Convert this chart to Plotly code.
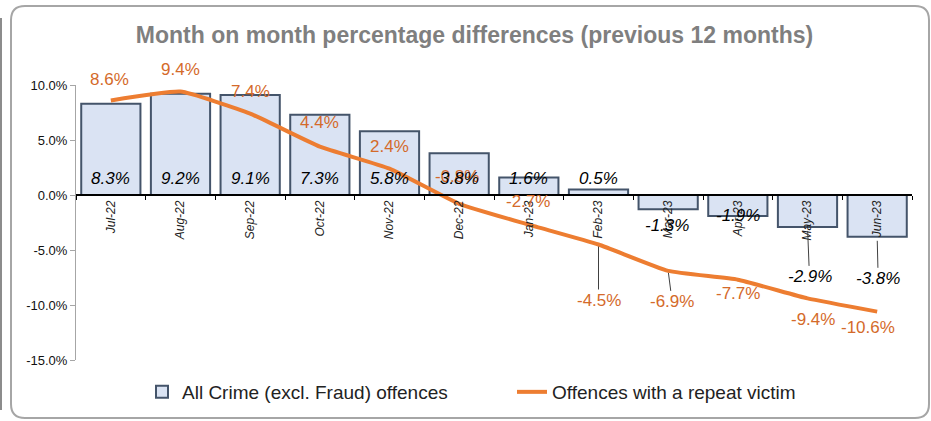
import plotly.graph_objects as go

months = ["Jul-22", "Aug-22", "Sep-22", "Oct-22", "Nov-22", "Dec-22",
          "Jan-23", "Feb-23", "Mar-23", "Apr-23", "May-23", "Jun-23"]
all_crime = [8.3, 9.2, 9.1, 7.3, 5.8, 3.8, 1.6, 0.5, -1.3, -1.9, -2.9, -3.8]
repeat_victim = [8.6, 9.4, 7.4, 4.4, 2.4, -0.8, -2.7, -4.5, -6.9, -7.7, -9.4, -10.6]

series_names = ["All Crime (excl. Fraud) offences", "Offences with a repeat victim"]
y_ticks = [10, 5, 0, -5, -10, -15]

# label offsets (pixels): (xshift, yshift, leader)
line_label_off = [(-1, 21, 0), (0, 22, 0), (0, 22, 0), (0, 24, 0), (0, 22, 0), (-2, 27, 0),
                  (-1, 23, 0), (0, -56, 1), (4, -31, 1), (0, -14, 0), (5, -21, 0), (-9, -16, 0)]
bar_label_off = [(0, 17, 0)] * 8 + [(-1, -16, 0), (0, 0, 0), (2, -50, 1), (1, -42, 1)]

FONT = "Liberation Sans, Arial, sans-serif"
W, H = 931, 421
L, R, T, B = 76, 19, 85, 61
PW, PH = W - L - R, H - T - B

def px(x):
    return (x - L) / PW

def py(y):
    return (H - B - y) / PH

fig = go.Figure()
fig.add_trace(go.Bar(
    x=months, y=all_crime, name=series_names[0], width=0.85,
    marker=dict(color="#DAE3F3", line=dict(color="#44546A", width=2)),
))
fig.add_trace(go.Scatter(
    x=months, y=repeat_victim, name=series_names[1], mode="lines",
    line=dict(color="#ED7D31", width=4, shape="spline", smoothing=0.4),
))

annotations = []
for m, v, (dx, dy, lead) in zip(months, repeat_victim, line_label_off):
    a = dict(x=m, y=v, text=f"{v:.1f}%", font=dict(family=FONT, size=17, color="#D46A2A"))
    if lead:
        a.update(showarrow=True, arrowhead=0, arrowwidth=1, arrowcolor="#404040",
                 ax=dx, ay=-dy, standoff=2, startstandoff=0)
    else:
        a.update(showarrow=False, xshift=dx, yshift=dy)
    annotations.append(a)

for i, (m, v, (dx, dy, lead)) in enumerate(zip(months, all_crime, bar_label_off)):
    yv = 0 if v > 0 else v
    a = dict(x=m, y=yv, text=f"{v:.1f}%",
             font=dict(family=FONT, size=17, color="#000000", style="italic"))
    if lead:
        a.update(showarrow=True, arrowhead=0, arrowwidth=1, arrowcolor="#404040",
                 ax=dx, ay=-dy, standoff=4)
    else:
        a.update(showarrow=False, xshift=dx, yshift=dy)
    annotations.append(a)

# rounded border
x0, x1, y0, y1, r = px(11), px(929), py(6), py(418), 14 / PW
ry = 14 / PH
path = (f"M{x0},{y0 - ry} L{x0},{y1 + ry} Q{x0},{y1} {x0 + r},{y1} "
        f"L{x1 - r},{y1} Q{x1},{y1} {x1},{y1 + ry} L{x1},{y0 - ry} "
        f"Q{x1},{y0} {x1 - r},{y0} L{x0 + r},{y0} Q{x0},{y0} {x0},{y0 - ry} Z")
shapes = [
    dict(type="path", xref="paper", yref="paper", path=path,
         line=dict(color="#A6A6A6", width=2), layer="below"),
    dict(type="line", xref="paper", yref="paper", x0=px(1), x1=px(1), y0=py(18), y1=py(410),
         line=dict(color="#8C8C8C", width=2)),
]

fig.update_layout(
    width=W, height=H,
    margin=dict(l=L, r=R, t=T, b=B, autoexpand=False),
    paper_bgcolor="white", plot_bgcolor="white",
    title=dict(text="Month on month percentage differences (previous 12 months)",
               x=474.5 / W, xanchor="center", xref="container",
               y=1 - 35 / H, yanchor="middle", yref="container",
               font=dict(family=FONT, size=23, color="#7F7F7F", weight="bold")),
    showlegend=True,
    legend=dict(orientation="h", x=px(142), xanchor="left", y=py(392), yanchor="middle",
                font=dict(family=FONT, size=19, color="#222222"),
                entrywidth=325, entrywidthmode="pixels", bgcolor="rgba(0,0,0,0)"),
    xaxis=dict(type="category", range=[-0.5, 11.5], anchor="free", position=0.6,
               showline=True, linecolor="#000000", linewidth=1.5, automargin=False,
               ticks="outside", ticklen=4, tickcolor="#000000", tickson="boundaries",
               tickangle=-90, showgrid=False,
               tickfont=dict(family=FONT, size=12, color="#222222", style="italic")),
    yaxis=dict(range=[-15, 10], tickvals=y_ticks, ticktext=[f"{t:.1f}%" for t in y_ticks],
               showline=True, linecolor="#A6A6A6", linewidth=1, ticks="outside", ticklen=5,
               tickcolor="#A6A6A6", showgrid=False, zeroline=False, automargin=False,
               tickfont=dict(family=FONT, size=13, color="#111111")),
    annotations=annotations,
    shapes=shapes,
    bargap=0.15,
)

fig.write_html("out.html", config={"displayModeBar": False},
               post_script="document.body.style.margin='0';document.body.style.overflow='hidden';")
